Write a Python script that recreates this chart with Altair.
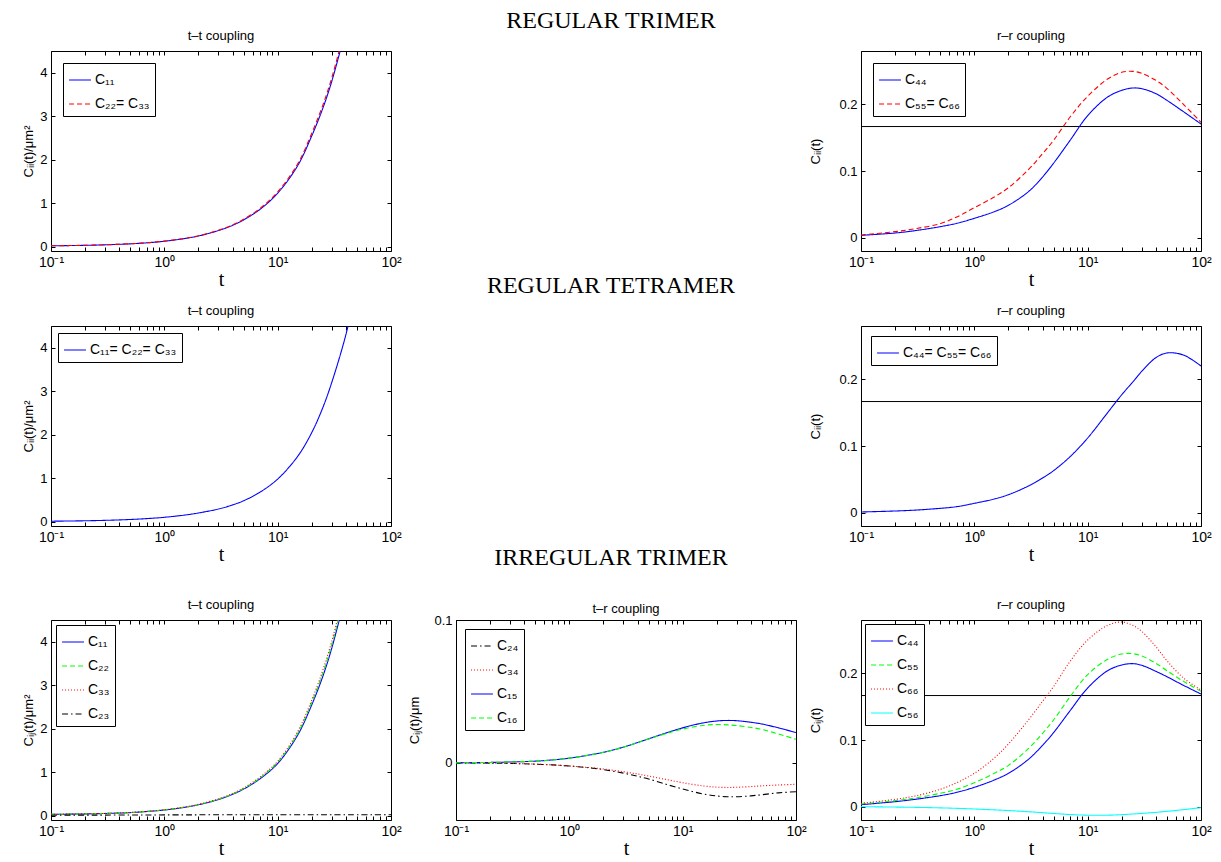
import altair as alt
import pandas as pd

# ---------------- data ----------------
T = [0.1, 0.2, 0.3, 0.5, 0.7, 1, 1.5, 2, 3, 4, 5, 7, 10, 15, 20, 25, 30, 40, 50, 70, 100]

# REGULAR TRIMER
RT_C11 = [0.02, 0.03, 0.042, 0.065, 0.088, 0.125, 0.185, 0.245, 0.37, 0.49, 0.615, 0.86, 1.23, 1.86, 2.55, 3.18, 3.80, 5.00]
RT_C22 = [0.02, 0.031, 0.043, 0.067, 0.090, 0.128, 0.19, 0.25, 0.378, 0.50, 0.63, 0.88, 1.26, 1.90, 2.61, 3.25, 3.88, 5.10]
RT_C44 = [0.0035, 0.007, 0.0105, 0.0165, 0.0215, 0.029, 0.039, 0.0486, 0.069, 0.091, 0.1116, 0.146, 0.183, 0.211, 0.221, 0.2245, 0.2235, 0.216, 0.206, 0.189, 0.1705]
RT_C55 = [0.004, 0.009, 0.0135, 0.021, 0.031, 0.045, 0.061, 0.075, 0.102, 0.126, 0.146, 0.181, 0.212, 0.238, 0.248, 0.2495, 0.2465, 0.236, 0.224, 0.200, 0.173]

# REGULAR TETRAMER
TE_C11 = [0.01, 0.02, 0.03, 0.05, 0.07, 0.10, 0.15, 0.20, 0.29, 0.385, 0.48, 0.68, 0.98, 1.50, 2.05, 2.62, 3.20, 4.30, 5.40]
TE_C44 = [0.001, 0.0025, 0.0038, 0.0065, 0.009, 0.014, 0.0205, 0.027, 0.040, 0.052, 0.063, 0.084, 0.112, 0.150, 0.177, 0.196, 0.212, 0.2325, 0.2395, 0.2365, 0.220]

# IRREGULAR TRIMER
IT_C11 = [0.03, 0.04, 0.05, 0.07, 0.095, 0.13, 0.19, 0.25, 0.37, 0.49, 0.61, 0.85, 1.20, 1.85, 2.55, 3.20, 3.85, 5.10]
IT_C22 = [0.03, 0.041, 0.051, 0.072, 0.097, 0.133, 0.194, 0.255, 0.378, 0.50, 0.623, 0.87, 1.23, 1.89, 2.61, 3.27, 3.93, 5.20]
IT_C33 = [0.03, 0.042, 0.052, 0.074, 0.099, 0.136, 0.198, 0.261, 0.386, 0.51, 0.636, 0.89, 1.25, 1.93, 2.66, 3.34, 4.01, 5.31]
IT_C23 = [0.01, 0.012, 0.013, 0.015, 0.016, 0.017, 0.018, 0.019, 0.02, 0.02, 0.02, 0.02, 0.02, 0.02, 0.02, 0.02, 0.02, 0.02, 0.02, 0.02, 0.02]

IT_C24 = [0.0, -0.0002, -0.0004, -0.0009, -0.0014, -0.0022, -0.0035, -0.0047, -0.0072, -0.0094, -0.0113, -0.0148, -0.0183, -0.0217, -0.0232, -0.0237, -0.0237, -0.0231, -0.0223, -0.0210, -0.0202]
IT_C34 = [0.0, -0.0002, -0.0004, -0.0009, -0.0014, -0.0022, -0.0033, -0.0043, -0.0062, -0.0078, -0.0092, -0.0115, -0.0139, -0.0161, -0.0170, -0.0172, -0.0171, -0.0166, -0.0161, -0.0155, -0.0150]
IT_C15 = [0.0, 0.0003, 0.0006, 0.0012, 0.002, 0.0033, 0.0055, 0.0074, 0.011, 0.0142, 0.0168, 0.0207, 0.0245, 0.0279, 0.0293, 0.0297, 0.0295, 0.0284, 0.0272, 0.0245, 0.0212]
IT_C16 = [0.0, 0.0003, 0.0006, 0.0012, 0.002, 0.0033, 0.0055, 0.0074, 0.011, 0.0142, 0.0167, 0.0203, 0.0236, 0.0262, 0.0268, 0.0266, 0.0261, 0.0248, 0.0234, 0.0202, 0.0165]

IT_C44 = [0.003, 0.0075, 0.011, 0.0165, 0.0215, 0.029, 0.040, 0.050, 0.071, 0.092, 0.111, 0.144, 0.178, 0.204, 0.2125, 0.2145, 0.212, 0.203, 0.195, 0.182, 0.169]
IT_C55 = [0.004, 0.009, 0.013, 0.020, 0.026, 0.036, 0.050, 0.062, 0.087, 0.110, 0.130, 0.165, 0.198, 0.221, 0.229, 0.2295, 0.226, 0.215, 0.204, 0.188, 0.173]
IT_C66 = [0.005, 0.011, 0.016, 0.026, 0.036, 0.050, 0.073, 0.094, 0.130, 0.158, 0.180, 0.218, 0.250, 0.272, 0.277, 0.272, 0.263, 0.240, 0.219, 0.193, 0.175]
IT_C56 = [0.0, -0.0006, -0.001, -0.0018, -0.0025, -0.0035, -0.0048, -0.0058, -0.0076, -0.009, -0.0102, -0.0118, -0.0128, -0.0128, -0.012, -0.011, -0.0101, -0.0085, -0.007, -0.0045, -0.0015]

RR_LIMIT = [0.1667]

SECTION_TITLES = ["REGULAR TRIMER", "REGULAR TETRAMER", "IRREGULAR TRIMER"]

XTICKS = [0.1, 0.2, 0.3, 0.4, 0.5, 0.6, 0.7, 0.8, 0.9, 1, 2, 3, 4, 5, 6, 7, 8, 9,
          10, 20, 30, 40, 50, 60, 70, 80, 90, 100]
XLABELS = ("datum.value == 0.1 ? '10⁻¹' : datum.value == 1 ? '10⁰' : "
           "datum.value == 10 ? '10¹' : datum.value == 100 ? '10²' : ''")

BLUE, RED, GREEN, BLACK, CYAN = "#0000ff", "#ff0000", "#00ff00", "#000000", "#00ffff"
SOLID, DASH, DOT, DASHDOT = [1, 0], [5, 3], [1, 2], [6, 3, 1.5, 3]

W, H = 340, 200


def panel(title, names, series, colors, dashes, ydom, yticks, ytitle, ytpad, leg_off,
          hline=False, title_off=8):
    rows = []
    for name, vals in zip(names, series):
        for t, v in zip(T, vals):
            rows.append({"t": t, "v": v, "c": name})
    df = pd.DataFrame(rows)
    xs = alt.Scale(type="log", domain=[0.1, 100], nice=False)
    ys = alt.Scale(domain=ydom, nice=False, zero=False)
    leg = alt.Legend(title=None, orient="top-left", offset=leg_off)
    lines = alt.Chart(df).mark_line(clip=True, strokeWidth=1.1, interpolate="catmull-rom").encode(
        x=alt.X("t:Q", scale=xs, title="t",
                axis=alt.Axis(orient="bottom", values=XTICKS, labelExpr=XLABELS,
                              labelFlush=False, labelOverlap=False, labelFontSize=14,
                              titleFont="Liberation Serif", titleFontSize=20, titlePadding=0)),
        y=alt.Y("v:Q", scale=ys, title=ytitle,
                axis=alt.Axis(orient="left", values=yticks, format="~g",
                              titlePadding=ytpad, titleFontSize=13)),
        color=alt.Color("c:N", scale=alt.Scale(domain=names, range=colors), legend=leg),
        strokeDash=alt.StrokeDash("c:N", scale=alt.Scale(domain=names, range=dashes), legend=leg),
    )
    frame = alt.Chart(pd.DataFrame({"t": [0.1], "v": [ydom[0]]})).mark_line(opacity=0, clip=True).encode(
        x=alt.X("t:Q", scale=xs, title=None,
                axis=alt.Axis(orient="top", values=XTICKS, labels=False)),
        y=alt.Y("v:Q", scale=ys, title=None,
                axis=alt.Axis(orient="right", values=yticks, labels=False)),
    )
    layers = []
    if hline:
        layers.append(
            alt.Chart(pd.DataFrame({"h": RR_LIMIT})).mark_rule(color="black", strokeWidth=1).encode(
                y=alt.Y("h:Q", scale=ys, axis=None)))
    layers += [lines, frame]
    return alt.layer(*layers).resolve_axis(x="independent", y="independent").properties(
        width=W, height=H,
        title=alt.TitleParams(title, font="Liberation Sans", fontSize=13, fontWeight="normal",
                              color="black", offset=title_off))


def blank(h, text="", y=None):
    df = pd.DataFrame({"s": [text]})
    ypos = h / 2 if y is None else y
    return alt.Chart(df).mark_text(font="Liberation Serif", fontSize=24, baseline="alphabetic",
                                   align="center", color="black").encode(
        text="s:N", x=alt.value(155), y=alt.value(ypos)
    ).properties(width=W, height=h, view=alt.ViewBackground(stroke="transparent"))


TT_DOM, RR_DOM, TR_DOM = [-0.1, 4.5], [-0.02, 0.28], [-0.04, 0.1]
TT_TICKS, RR_TICKS, TR_TICKS = [0, 1, 2, 3, 4], [0, 0.1, 0.2], [0, 0.1]

p1a = panel("t–t coupling", ["C₁₁", "C₂₂= C₃₃"], [RT_C11, RT_C22], [BLUE, RED], [SOLID, DASH],
            TT_DOM, TT_TICKS, "Cᵢᵢ(t)/μm²", 4, 12)
p1c = panel("r–r coupling", ["C₄₄", "C₅₅= C₆₆"], [RT_C44, RT_C55], [BLUE, RED], [SOLID, DASH],
            RR_DOM, RR_TICKS, "Cᵢᵢ(t)", 16, 12, hline=True)
p2a = panel("t–t coupling", ["C₁₁= C₂₂= C₃₃"], [TE_C11], [BLUE], [SOLID],
            TT_DOM, TT_TICKS, "Cᵢᵢ(t)/μm²", 4, 7)
p2c = panel("r–r coupling", ["C₄₄= C₅₅= C₆₆"], [TE_C44], [BLUE], [SOLID],
            RR_DOM, RR_TICKS, "Cᵢᵢ(t)", 16, 10, hline=True)
p3a = panel("t–t coupling", ["C₁₁", "C₂₂", "C₃₃", "C₂₃"], [IT_C11, IT_C22, IT_C33, IT_C23],
            [BLUE, GREEN, RED, BLACK], [SOLID, DASH, DOT, DASHDOT],
            TT_DOM, TT_TICKS, "Cᵢⱼ(t)/μm²", 4, 5)
p3b = panel("t–r coupling", ["C₂₄", "C₃₄", "C₁₅", "C₁₆"], [IT_C24, IT_C34, IT_C15, IT_C16],
            [BLACK, RED, BLUE, GREEN], [DASHDOT, DOT, SOLID, DASH],
            TR_DOM, TR_TICKS, "Cᵢⱼ(t)/μm", 12, 9, title_off=-2)
p3c = panel("r–r coupling", ["C₄₄", "C₅₅", "C₆₆", "C₅₆"], [IT_C44, IT_C55, IT_C66, IT_C56],
            [BLUE, GREEN, RED, CYAN], [SOLID, DASH, DOT, SOLID],
            RR_DOM, RR_TICKS, "Cᵢⱼ(t)", 16, 4, hline=True)

cells = [
    blank(39), blank(39, SECTION_TITLES[0], 16), blank(39),
    p1a, blank(H), p1c,
    blank(75), blank(75, SECTION_TITLES[1], 42), blank(75),
    p2a, blank(H), p2c,
    blank(94), blank(94, SECTION_TITLES[2], 39), blank(94),
    p3a, p3b, p3c,
]

chart = alt.concat(*cells, columns=3, spacing={"row": 0, "column": 65},
                   bounds="flush", align="each").resolve_scale(
    color="independent", strokeDash="independent"
).resolve_legend(
    color="independent", strokeDash="independent"
).properties(
    padding={"left": 14, "top": 0, "right": 0, "bottom": 0}
).configure_view(
    stroke="black", strokeWidth=1
).configure_axis(
    domain=False, grid=False, tickColor="black", tickSize=4, tickWidth=1, offset=-4,
    labelFont="Liberation Sans", labelFontSize=13, labelColor="black", labelPadding=4,
    titleFont="Liberation Sans", titleFontWeight="normal", titleColor="black"
).configure_legend(
    symbolType="stroke", symbolSize=480, symbolStrokeWidth=1.1,
    labelFont="Liberation Sans", labelFontSize=14, labelColor="black",
    strokeColor="black", fillColor="white", padding=5, rowPadding=5,
    labelLimit=300, cornerRadius=0, labelOffset=3
)

chart.save("out.html", embed_options={"renderer": "svg", "actions": False})
